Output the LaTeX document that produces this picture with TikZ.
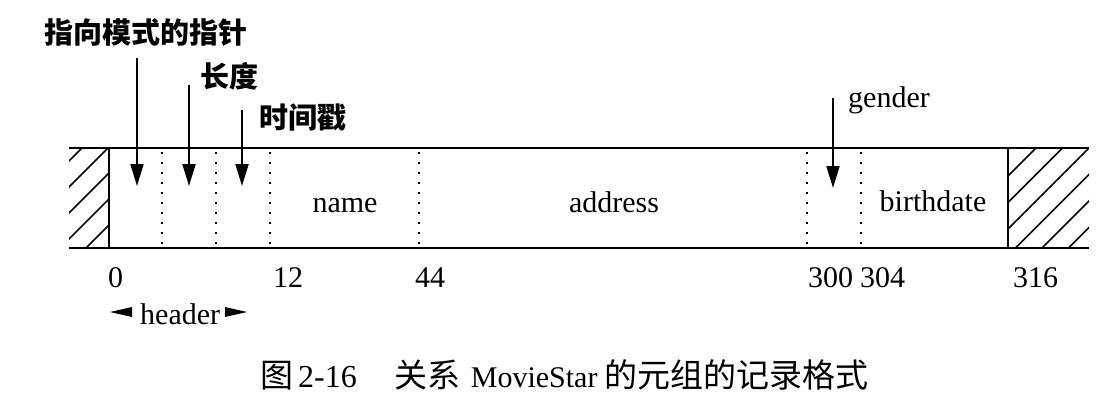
\documentclass[tikz,border=0pt]{standalone}
\usepackage{fontspec}
\setmainfont{Liberation Serif}
\newfontfamily\cjk{Noto Sans CJK SC}
\usetikzlibrary{arrows.meta}
\newcommand\latsize{\fontsize{30pt}{36pt}\selectfont}
\newcommand\cjkbold{\cjk\bfseries\fontsize{29pt}{34pt}\selectfont}
\newcommand\cjcap[1]{{\cjk\fontsize{33pt}{38pt}\selectfont #1}}
\begin{document}
\begin{tikzpicture}[x=1pt,y=-1pt,
  boxline/.style={line width=1.8pt},
  edgeline/.style={line width=2.4pt},
  sepline/.style={line width=2.2pt, dash pattern=on 2pt off 8pt},
  hatchline/.style={line width=1.6pt},
  ptr/.style={line width=1.8pt,-{Triangle[length=22pt,width=13pt]}},
  lbl/.style={inner sep=0pt,font=\latsize},
  cjlbl/.style={inner sep=0pt,font=\cjkbold},
  num/.style={inner sep=0pt,font=\latsize,anchor=base west},
]
\path[use as bounding box] (0,0) rectangle (1119,402);

% record outline
\coordinate (tl) at (69,148);
\coordinate (tr) at (1089,148);
\coordinate (bl) at (69,248);
\coordinate (br) at (1089,248);
\coordinate (lt) at (109,148);
\coordinate (lb) at (109,248);
\coordinate (rt) at (1008,148);
\coordinate (rb) at (1008,248);

% hatching
\begin{scope}
  \clip (tl) rectangle (lb);
  \foreach \c in {230,256,282,308,334}
    \draw[hatchline] (\c-148,148) -- (\c-248,248);
\end{scope}
\begin{scope}
  \clip (rt) rectangle (br);
  \foreach \c in {1184,1210.5,1237,1263.5,1290,1316.5}
    \draw[hatchline] (\c-148,148) -- (\c-248,248);
\end{scope}

\draw[boxline] (tl) -- (tr);
\draw[boxline] (bl) -- (br);
\draw[edgeline] (lt) -- (lb);
\draw[boxline] (rt) -- (rb);

% field separators
\foreach \x [count=\i] in {162,216,270,419,807,861} {
  \coordinate (d\i t) at (\x,152);
  \coordinate (d\i b) at (\x,247);
  \draw[sepline] (d\i t) -- (d\i b);
}

% field names
\node[lbl,anchor=base] (fname) at (345,212) {name};
\node[lbl,anchor=base] (faddr) at (614,212) {address};
\node[lbl,anchor=base] (fbirth) at (933,211) {birthdate};

% pointer labels
\node[cjlbl] (lptr) at (146,33) {指向模式的指针};
\node[cjlbl] (llen) at (229,76) {长度};
\node[cjlbl] (lts) at (303,117) {时间戳};
\node[lbl,anchor=base west] (lgen) at (848,107) {gender};

\coordinate (a1s) at (137,58);  \coordinate (a1e) at (137,186);
\coordinate (a2s) at (189,85);  \coordinate (a2e) at (189,186);
\coordinate (a3s) at (242,110); \coordinate (a3e) at (242,186);
\coordinate (a4s) at (833,98);  \coordinate (a4e) at (833,188);
\draw[ptr] (a1s) -- (a1e);
\draw[ptr] (a2s) -- (a2e);
\draw[ptr] (a3s) -- (a3e);
\draw[ptr] (a4s) -- (a4e);

% offsets
\node[num] (n0) at (108,287) {0};
\node[num] (n12) at (273,287) {12};
\node[num] (n44) at (415,287) {44};
\node[num] (n300) at (808,287) {300};
\node[num] (n304) at (860,287) {304};
\node[num] (n316) at (1013,287) {316};

% header
\node[lbl,anchor=base west] (hdr) at (140,324) {header};
\fill (110,312) -- (132,307) -- (132,317) -- cycle;
\fill (247,312) -- (225,307) -- (225,317) -- cycle;

% caption
\node[inner sep=0pt,anchor=base west,font=\latsize] (cap) at (260,387)
  {\cjcap{图}\hspace{5pt}{\fontsize{32pt}{38pt}\selectfont 2-16}\hspace{38pt}\cjcap{关系}\hspace{10pt}MovieStar\hspace{7pt}\cjcap{的元组的记录格式}};
\end{tikzpicture}
\end{document}
